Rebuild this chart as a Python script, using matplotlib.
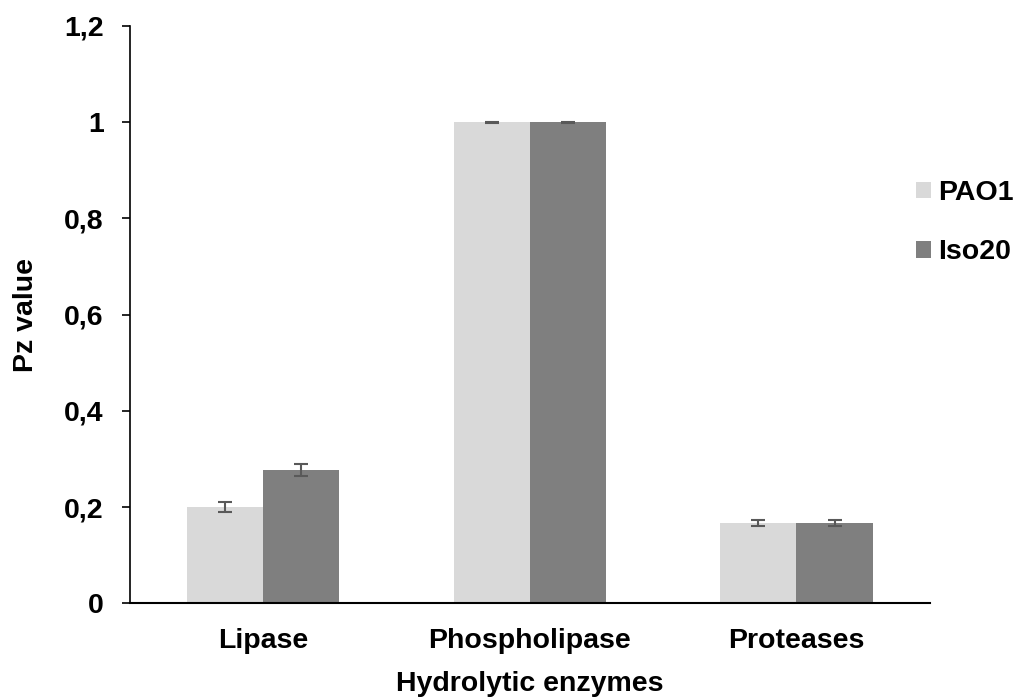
import numpy as np
import matplotlib
matplotlib.use("Agg")
import matplotlib.pyplot as plt

plt.rcParams['font.family'] = ['Liberation Sans', 'DejaVu Sans']
plt.rcParams['font.weight'] = 'bold'

categories = ["Lipase", "Phospholipase", "Proteases"]
series = ["PAO1", "Iso20"]
pao1 = [0.200, 1.000, 0.166]
pao1_err = [0.010, 0.001, 0.006]
iso20 = [0.277, 1.000, 0.166]
iso20_err = [0.012, 0.001, 0.006]
yticks = [0, 0.2, 0.4, 0.6, 0.8, 1.0, 1.2]
ytick_labels = ["0", "0,2", "0,4", "0,6", "0,8", "1", "1,2"]

fs = 20.5

fig = plt.figure(figsize=(10.15, 6.99), dpi=100)
ax = fig.add_axes([0.128, 0.137, 0.788, 0.826])

x = np.arange(len(categories))
w = 0.286
ax.bar(x - w / 2, pao1, w, color="#d9d9d9", label=series[0], zorder=2)
ax.bar(x + w / 2, iso20, w, color="#7f7f7f", label=series[1], zorder=2)
ax.errorbar(x - w / 2, pao1, yerr=pao1_err, fmt="none", ecolor="#595959",
            elinewidth=1.5, capsize=4.7, capthick=1.5, zorder=3)
ax.errorbar(x + w / 2, iso20, yerr=iso20_err, fmt="none", ecolor="#595959",
            elinewidth=1.5, capsize=4.7, capthick=1.5, zorder=3)

ax.set_xlim(-0.5, 2.5)
ax.set_ylim(0, 1.2)
ax.set_yticks(yticks)
ax.set_yticklabels(ytick_labels, fontsize=fs, fontweight="bold")
ax.set_xticks(x)
ax.set_xticklabels(categories, fontsize=fs, fontweight="bold")
ax.tick_params(axis="x", length=0, pad=18)
ax.tick_params(axis="y", length=6, width=1.2, pad=13)
for s in ["top", "right"]:
    ax.spines[s].set_visible(False)
ax.spines["left"].set_linewidth(1.2)
ax.spines["bottom"].set_linewidth(1.5)

ax.set_xlabel("Hydrolytic enzymes", fontsize=fs, fontweight="bold", labelpad=12)
ax.set_ylabel("Pz value", fontsize=fs, fontweight="bold", labelpad=18)

fig.legend(loc="upper left", bbox_to_anchor=(916 / 1015, 1 - 180 / 699),
           frameon=False, borderpad=0, borderaxespad=0,
           prop={"size": fs, "weight": "bold"}, handlelength=0.53,
           handleheight=0.53, handletextpad=0.25, labelspacing=1.17)

fig.savefig("out.png", dpi=100)
